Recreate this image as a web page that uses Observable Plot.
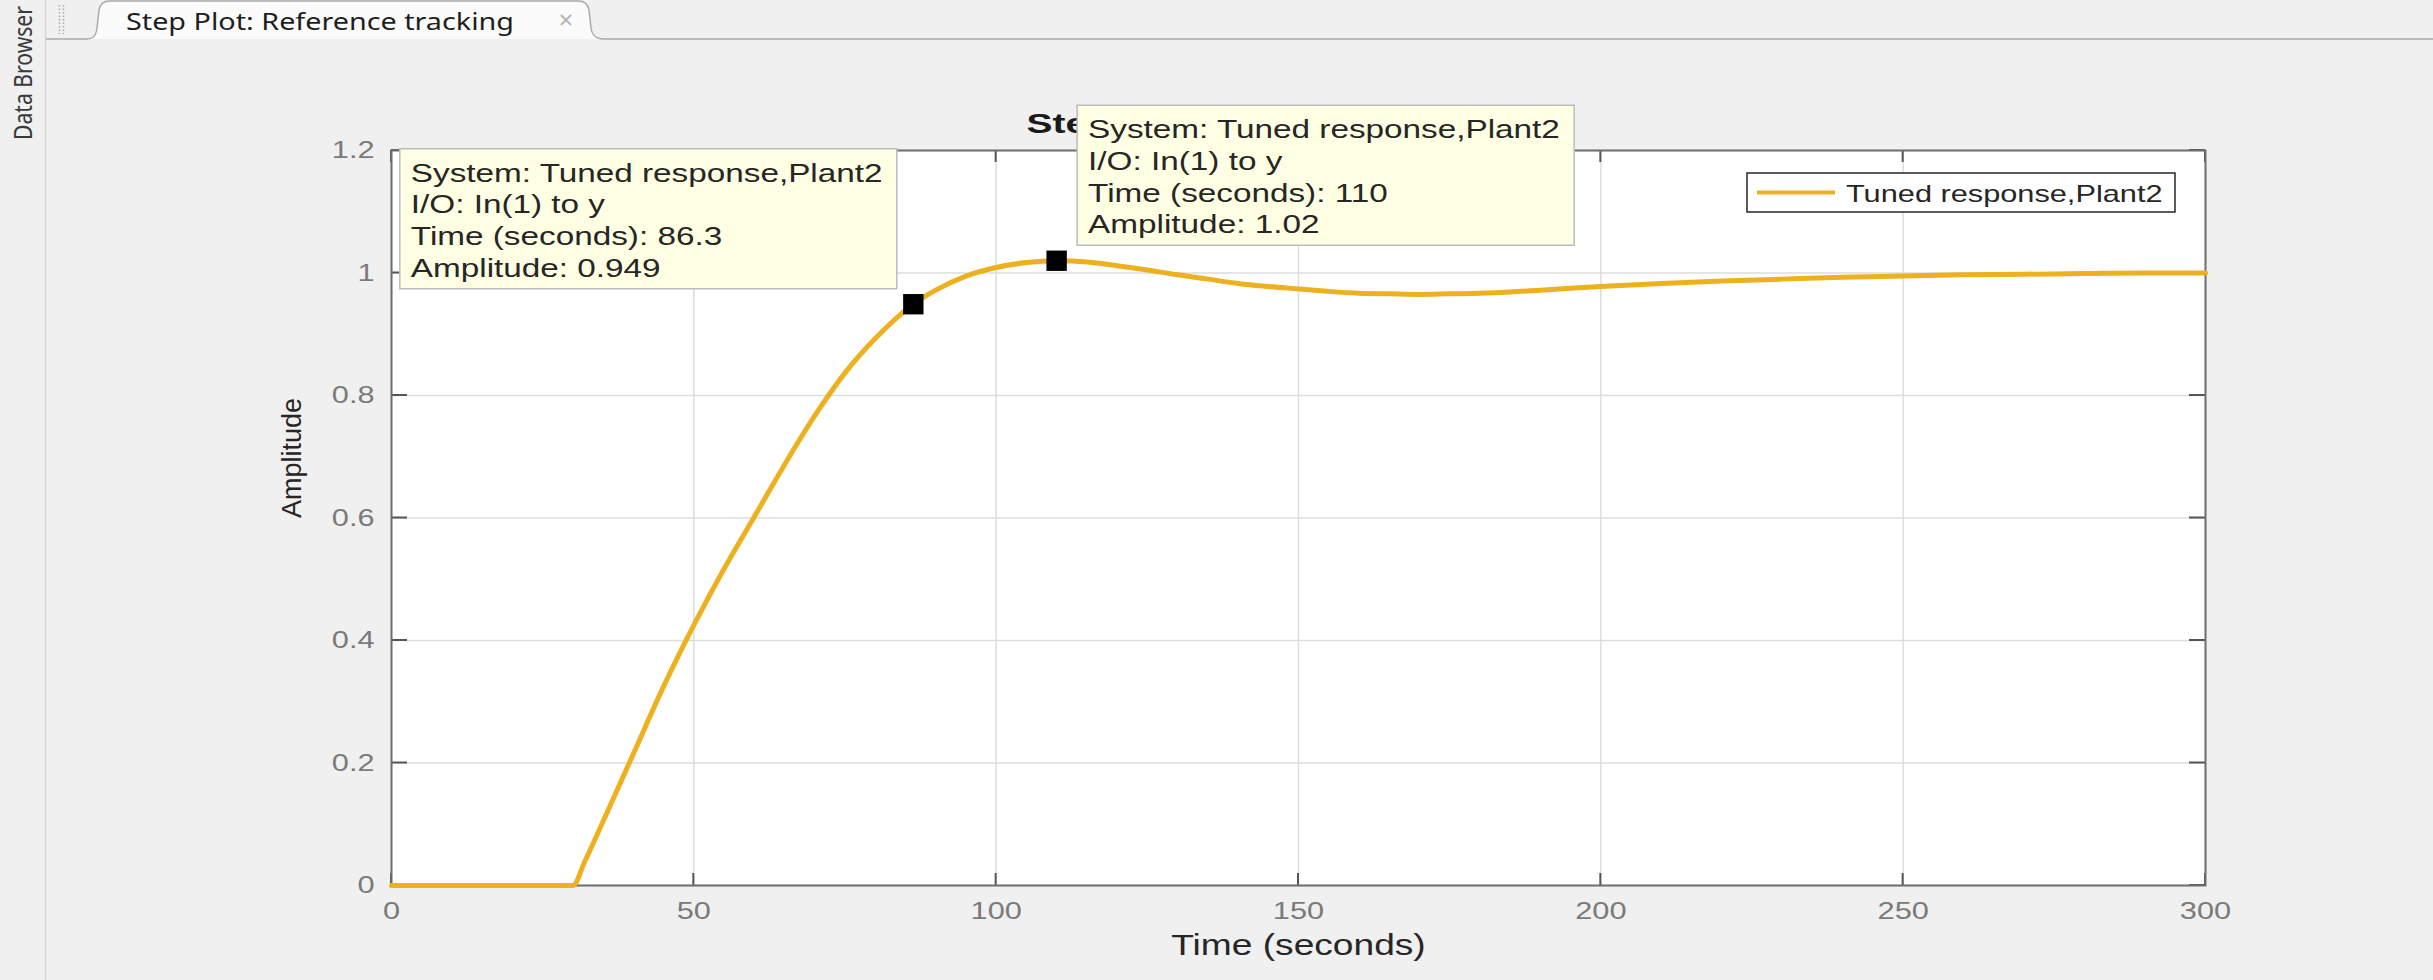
<!DOCTYPE html>
<html>
<head>
<meta charset="utf-8">
<script src="https://cdn.jsdelivr.net/npm/d3@7"></script>
<script src="https://cdn.jsdelivr.net/npm/@observablehq/plot@0.6"></script>
<style>
  html, body { margin: 0; padding: 0; background: #f0f0f0; }
  #page { position: relative; width: 2433px; height: 980px; overflow: hidden; background: #f0f0f0; }
  #chrome { position: absolute; left: 0; top: 0; }
  #chart { position: absolute; left: 0; top: 0; }
</style>
</head>
<body>
<div id="page">
  <svg id="chrome" width="2433" height="980" font-family="'Noto Sans', 'Open Sans', sans-serif">
    <line x1="45.5" y1="0" x2="45.5" y2="980" stroke="#d6d6d6" stroke-width="1.5"/>
    <text transform="translate(32,140) scale(1.25,1) rotate(-90)" font-size="21" fill="#3a3a3a" textLength="134" lengthAdjust="spacingAndGlyphs">Data Browser</text>
    <line x1="59.5" y1="5" x2="59.5" y2="34" stroke="#a8a8a8" stroke-width="1.5" stroke-dasharray="1.5,2"/>
    <line x1="63.5" y1="5" x2="63.5" y2="34" stroke="#a8a8a8" stroke-width="1.5" stroke-dasharray="1.5,2"/>
    <path d="M46,39 L86,39 C94,39 96,35 97,28 L99,10 C100,4 103,1 110,1 L578,1 C585,1 588,4 589,10 L591,28 C592,35 595,39 604,39 L2433,39"
          fill="#fbfbfb" stroke="#a9a9a9" stroke-width="1.5"/>
    <rect x="46" y="40" width="2387" height="2" fill="#f0f0f0"/>
    <text x="126" y="30" font-size="24" fill="#1e1e1e" textLength="388" lengthAdjust="spacingAndGlyphs">Step Plot: Reference tracking</text>
    <text x="566" y="29" font-size="26" fill="#b3b3b3" text-anchor="middle">×</text>
  </svg>
  <div id="chart"></div>
</div>
<script>
// ---------- data ----------
const xTicks = [0, 50, 100, 150, 200, 250, 300];
const yTicks = [0, 0.2, 0.4, 0.6, 0.8, 1, 1.2];

const time = [0, 30, 32, 35, 40, 45, 50, 55, 60, 65, 70, 75, 80, 86.3, 90, 95, 100, 105, 110, 115, 120, 125, 130, 135, 140, 145, 150, 155, 160, 165, 170, 175, 180, 185, 190, 195, 200, 210, 220, 230, 240, 250, 260, 270, 280, 290, 300];
const amplitude = [0, 0, 0.04, 0.105, 0.215, 0.325, 0.425, 0.517, 0.602, 0.687, 0.767, 0.837, 0.893, 0.949, 0.972, 0.995, 1.009, 1.017, 1.02, 1.018, 1.012, 1.005, 0.997, 0.99, 0.983, 0.978, 0.974, 0.97, 0.967, 0.966, 0.965, 0.966, 0.967, 0.969, 0.972, 0.975, 0.978, 0.983, 0.987, 0.99, 0.993, 0.995, 0.997, 0.998, 0.999, 1.0, 1.0];

const markerTime = [86.3, 110];
const markerAmp = [0.949, 1.02];

const seriesName = "Tuned response,Plant2";
const ioText = "I/O: In(1) to y";
const xLabel = "Time (seconds)";
const yLabel = "Amplitude";
const titleText = "Step Plot: Reference tracking";

const lineColor = "#EDB120";
const STRETCH = 1.28;

const curve = time.map((t, i) => ({t, a: amplitude[i]}));
const markers = markerTime.map((t, i) => ({t, a: markerAmp[i]}));

function tipLines(i) {
  return [
    `System: ${seriesName}`,
    ioText,
    `Time (seconds): ${markerTime[i]}`,
    `Amplitude: ${markerAmp[i]}`
  ];
}

// ---------- custom marks ----------
function tooltipMark(i, side) {
  return (index, scales, values, dims) => {
    const px = scales.x(markerTime[i]);
    const py = scales.y(markerAmp[i]);
    const w = 497, h = 140;
    const x0 = side === "left" ? px - 16 - w : px + 21;
    const y0 = py - 15 - h;
    const g = d3.create("svg:g").attr("text-anchor", "start");
    g.append("rect").attr("x", x0).attr("y", y0).attr("width", w).attr("height", h)
      .attr("fill", "#ffffe3").attr("stroke", "#bcbcbc").attr("stroke-width", 1.5);
    tipLines(i).forEach((s, k) => {
      g.append("text").attr("x", x0 + 11).attr("y", y0 + 33 + k * 31.7)
        .attr("text-anchor", "start")
        .attr("font-size", 26).attr("fill", "#262626").text(s);
    });
    return g.node();
  };
}

function legendMark(index, scales, values, dims) {
  const x1 = dims.width - dims.marginRight - 30;
  const x0 = x1 - 428;
  const y0 = dims.marginTop + 23;
  const h = 39;
  const g = d3.create("svg:g").attr("text-anchor", "start");
  g.append("rect").attr("x", x0).attr("y", y0).attr("width", x1 - x0).attr("height", h)
    .attr("fill", "white").attr("stroke", "#262626").attr("stroke-width", 1.5);
  g.append("line").attr("x1", x0 + 10).attr("x2", x0 + 88).attr("y1", y0 + h / 2).attr("y2", y0 + h / 2)
    .attr("stroke", lineColor).attr("stroke-width", 4);
  g.append("text").attr("x", x0 + 99).attr("y", y0 + 29).attr("text-anchor", "start")
    .attr("font-size", 24).attr("fill", "#262626").text(seriesName);
  return g.node();
}

function ticksMark(index, scales, values, dims) {
  const L = dims.marginLeft, R = dims.width - dims.marginRight;
  const T = dims.marginTop, B = dims.height - dims.marginBottom;
  const g = d3.create("svg:g").attr("stroke", "#555").attr("stroke-width", 2);
  xTicks.forEach(v => {
    const x = scales.x(v);
    g.append("line").attr("x1", x).attr("x2", x).attr("y1", B).attr("y2", B - 12);
    g.append("line").attr("x1", x).attr("x2", x).attr("y1", T).attr("y2", T + 12);
  });
  yTicks.forEach(v => {
    const y = scales.y(v);
    g.append("line").attr("x1", L).attr("x2", L + 16).attr("y1", y).attr("y2", y);
    g.append("line").attr("x1", R).attr("x2", R - 16).attr("y1", y).attr("y2", y);
  });
  return g.node();
}

// ---------- plot ----------
const chart = Plot.plot({
  width: 2433,
  height: 980,
  marginLeft: 391,
  marginRight: 228,
  marginTop: 150,
  marginBottom: 95,
  style: {background: "transparent", fontFamily: "'Liberation Sans', Arial, sans-serif", maxWidth: "none", overflow: "visible"},
  x: {domain: [0, 300], ticks: xTicks, label: null},
  y: {domain: [0, 1.2], ticks: yTicks, label: null},
  marks: [
    Plot.frame({fill: "white", stroke: null}),
    Plot.gridX(xTicks, {stroke: "#dddddd", strokeOpacity: 1, strokeWidth: 1.5}),
    Plot.gridY(yTicks, {stroke: "#dddddd", strokeOpacity: 1, strokeWidth: 1.5}),
    Plot.axisX(xTicks, {anchor: "bottom", tickSize: 0, tickPadding: 16, fontSize: 24, fill: "#7a7a7a", label: null, tickFormat: d => String(d)}),
    Plot.axisY(yTicks, {anchor: "left", tickSize: 0, tickPadding: 17, fontSize: 24, fill: "#7a7a7a", label: null, tickFormat: d => String(d)}),
    Plot.text([xLabel], {text: d => d, frameAnchor: "bottom", dy: 69, fontSize: 29, fill: "#262626"}),
    Plot.text([yLabel], {text: d => d, frameAnchor: "left", dx: -99, rotate: -90, fontSize: 27, fill: "#262626"}),
    Plot.text([titleText], {text: d => d, frameAnchor: "top", dy: -18, lineAnchor: "bottom", fontSize: 28, fontWeight: "bold", fill: "#1a1a1a"}),
    ticksMark,
    Plot.frame({stroke: "#6e6e6e", strokeWidth: 2}),
    Plot.line(curve, {x: "t", y: "a", stroke: lineColor, strokeWidth: 5, curve: "monotone-x"}),
    Plot.dot(markers, {x: "t", y: "a", symbol: "square", r: 11.5, fill: "black", stroke: null}),
    tooltipMark(0, "left"),
    tooltipMark(1, "right"),
    legendMark
  ]
});

document.getElementById("chart").appendChild(chart);

// widen glyphs to match the horizontally stretched reference screenshot
chart.querySelectorAll("text").forEach(t => {
  const tr = t.getAttribute("transform") || "";
  if (tr.includes("rotate")) return;
  const len = t.getComputedTextLength();
  if (!(len > 0)) return;
  const target = t.textContent === titleText ? 544 : len * STRETCH;
  t.setAttribute("textLength", target.toFixed(1));
  t.setAttribute("lengthAdjust", "spacingAndGlyphs");
});
</script>
</body>
</html>
